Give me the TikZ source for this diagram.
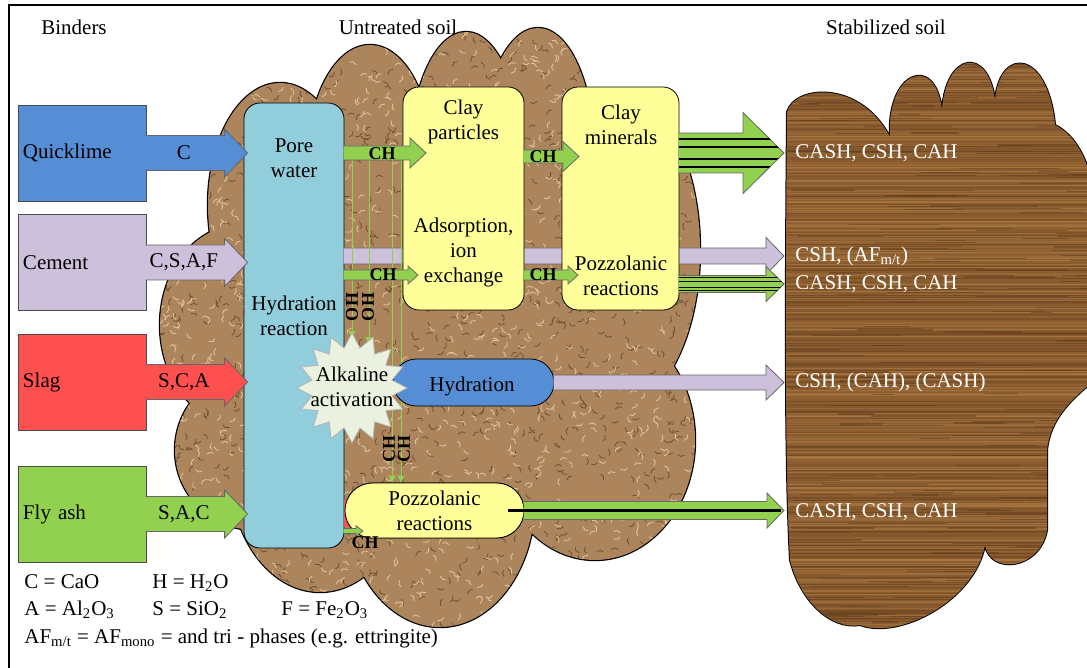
\documentclass[tikz,border=0pt]{standalone}
\usepackage{fontspec}
\setmainfont{Liberation Serif}
\usetikzlibrary{arrows.meta}
\usetikzlibrary{shapes.geometric}
\usetikzlibrary{calc}
\usetikzlibrary{positioning}

\definecolor{limeblue}{RGB}{85,142,213}
\definecolor{cemlilac}{RGB}{204,192,218}
\definecolor{slagred}{RGB}{255,80,80}
\definecolor{ashgreen}{RGB}{146,208,80}
\definecolor{porecyan}{RGB}{146,205,220}
\definecolor{clayyellow}{RGB}{255,255,153}
\definecolor{alkfill}{RGB}{234,241,222}
\definecolor{soilbase}{RGB}{172,133,92}
\definecolor{soildark}{RGB}{112,80,50}
\definecolor{soillight}{RGB}{222,194,152}
\definecolor{woodbase}{RGB}{140,92,46}
\definecolor{wooddark}{RGB}{96,60,28}
\definecolor{woodlight}{RGB}{186,136,78}

\tikzstyle{binder} = [draw=black!70, line width=0.4pt, rectangle,
minimum width=64pt, minimum height=48pt, text width=59pt, inner sep=2.5pt, align=left]
\tikzstyle{claybox} = [draw, fill=clayyellow, rectangle, rounded corners=8pt,
minimum height=111.5pt]
\tikzstyle{pill} = [draw, rectangle]
\tikzstyle{chlab} = [font=\fontsize{9}{10}\selectfont\bfseries, inner sep=0pt]
\tikzstyle{product} = [text=white, anchor=west, inner sep=5.5pt]
\tikzstyle{fatline} = [draw=black!60, line width=0.4pt]
\tikzstyle{feed} = [draw=ashgreen, line width=0.5pt, ->, fill=ashgreen]
\tikzstyle{keytext} = [anchor=base west, inner sep=0pt]

% block arrow: tail, tip, half shaft, half head, head length
\newcommand{\fatoutline}[5]{([xshift=-0.4pt,yshift=#3]#1) -- ([xshift=-#5,yshift=#3]#2)
  -- ([xshift=-#5,yshift=#4]#2) -- (#2) -- ([xshift=-#5,yshift=-#4]#2)
  -- ([xshift=-#5,yshift=-#3]#2) -- ([xshift=-0.4pt,yshift=-#3]#1)}
\newcommand{\fatarrow}[6][]{\path[#1] \fatoutline{#2}{#3}{#4}{#5}{#6};}

% outlines of the two soils
\newcommand{\soilblobs}{(280,205) ellipse [x radius=72, y radius=122]
  (370,158) ellipse [x radius=62, y radius=113]
  (466,158) ellipse [x radius=56, y radius=126]
  (538,152) ellipse [x radius=56, y radius=124]
  (615,250) ellipse [x radius=85, y radius=160]
  (240,325) ellipse [x radius=80, y radius=100]
  (255,450) ellipse [x radius=80, y radius=80]
  (320,470) ellipse [x radius=90, y radius=122]
  (440,500) ellipse [x radius=95, y radius=127]
  (595,440) ellipse [x radius=100, y radius=120]
  (450,330) ellipse [x radius=160, y radius=200]}
\newcommand{\stabblob}{(790,560) .. controls (784,450) and (786,250) .. (787,112)
  .. controls (795,85) and (860,80) .. (890,137)
  .. controls (886,72) and (935,52) .. (942,110)
  .. controls (946,52) and (988,46) .. (995,100)
  .. controls (1000,46) and (1048,50) .. (1055,125)
  .. controls (1075,135) and (1090,160) .. (1095,200) -- (1095,380)
  .. controls (1070,400) and (1050,420) .. (1047,450) -- (1047,530)
  .. controls (1040,570) and (990,575) .. (985,545)
  .. controls (975,600) and (900,640) .. (860,625)
  .. controls (830,630) and (800,600) .. (790,560) -- cycle}

\begin{document}
\begin{tikzpicture}[x=0.5pt, y=-0.5pt, font=\fontsize{10.5}{12.5}\selectfont,
  >={Triangle[length=3.5pt,width=3.5pt]}]
\useasboundingbox (0,0) rectangle (1087,668);
\pgfmathsetseed{11}

% untreated soil
\draw[line width=1.2pt] \soilblobs;
\begin{scope}
  \clip \soilblobs;
  \fill[soilbase] (150,0) rectangle (720,650);
  \foreach \k in {1,...,1400} {
    \pgfmathsetmacro{\px}{150+560*rnd}
    \pgfmathsetmacro{\py}{20+615*rnd}
    \pgfmathsetmacro{\pa}{360*rnd}
    \draw[soildark, line width=0.4pt, line cap=round] (\px,\py) -- ++(\pa:4) -- ++(\pa+50:3);
  }
  \foreach \k in {1,...,1400} {
    \pgfmathsetmacro{\px}{150+560*rnd}
    \pgfmathsetmacro{\py}{20+615*rnd}
    \pgfmathsetmacro{\pa}{360*rnd}
    \draw[soillight, line width=0.45pt, line cap=round] (\px,\py) -- ++(\pa:4) -- ++(\pa-50:3);
  }
\end{scope}

% stabilized soil
\draw[line width=1pt] \stabblob;
\begin{scope}
  \clip \stabblob;
  \fill[woodbase] (770,40) rectangle (1100,650);
  \foreach \k in {0,...,390} {
    \pgfmathsetmacro{\wy}{40+1.55*\k}
    \pgfmathsetmacro{\wm}{int(100*rnd)}
    \draw[woodlight!\wm!wooddark, line width=0.55pt, opacity=0.6] (770,\wy) -- (1100,\wy);
  }
  \foreach \k in {1,...,250} {
    \pgfmathsetmacro{\wx}{770+330*rnd}
    \pgfmathsetmacro{\wy}{40+610*rnd}
    \pgfmathsetmacro{\wl}{20+90*rnd}
    \draw[wooddark, line width=0.6pt, opacity=0.5] (\wx,\wy) -- ++(\wl,0);
  }
\end{scope}

\node[product] (out1) at (784,153) {CASH, CSH, CAH};
\node[product] (out2) at (784,256) {CSH, (AF\textsubscript{m/t})};
\node[product] (out3) at (784,284) {CASH, CSH, CAH};
\node[product] (out4) at (784,382.5) {CSH, (CAH), (CASH)};
\node[product] (out5) at (784,512) {CASH, CSH, CAH};

% pore water column
\node[draw, fill=porecyan, rounded corners=8pt, minimum width=50pt,
  minimum height=222.5pt] (porebox) at (294,325.5) {};

% cement products pass under the clay
\coordinate (c2) at (porebox.east |- out2.west);
\fatarrow[fill=cemlilac, fatline]{c2}{out2.west}{4pt}{9.25pt}{9pt}

% lime released to the alkaline and pozzolanic steps
\coordinate (oh1) at (352,160);
\coordinate (oh2) at (369,160);
\coordinate (ch1) at (392,160);
\coordinate (ch2) at (401,160);
\draw[feed] (oh1) -- (352,338);
\draw[feed] (oh2) -- (369,344);

\node[pill, fill=clayyellow, rounded corners=13.7pt, minimum width=89.5pt,
  minimum height=27.5pt] (pozzB) at (434.5,510.5) {};
\draw[feed] (ch1) -- (ch1 |- pozzB.north);
\draw[feed] (ch2) -- (ch2 |- pozzB.north);

\node[claybox, minimum width=60.5pt] (particles) at (463.5,198.5) {};
\node[claybox, minimum width=58.5pt] (minerals) at (620.5,198.5) {};

\fill[slagred] (344,500) rectangle (351,527);
\node[pill, fill=clayyellow, rounded corners=13.7pt, minimum width=89.5pt,
  minimum height=27.5pt] (pozzB) at (434.5,510.5) {};
\node[pill, fill=limeblue, rounded corners=11.7pt, minimum width=80.5pt,
  minimum height=23.5pt] (hyd) at (473.5,382.5) {};
\node[star, star points=16, star point ratio=1.35, minimum size=55pt, inner sep=0pt,
  draw=black!30, fill=alkfill] (alk) at (352,388) {};

\node (poretxt) at (294,158) [align=center] {Pore\\water};
\node (hydrtxt) at (294,316) [align=center] {Hydration\\reaction};
\node (parttxt) at (463.5,121.5) [align=center] {Clay\\particles};
\node (adstxt) at (463.5,252) [align=center] {Adsorption,\\ion\\exchange};
\node (mintxt) at (621,124.5) [align=center] {Clay\\minerals};
\node (pozztxt) at (621,275.5) [align=center] {Pozzolanic\\reactions};
\node (hydtxt) at (472,386) {Hydration};
\node (alktxt) at (352,387) [align=center] {Alkaline\\activation};
\node (pozzBtxt) at (434.5,511) [align=center] {Pozzolanic\\reactions};

% calcium hydroxide transfers
\coordinate (cha) at (426,153);
\coordinate (chat) at (porebox.east |- cha);
\fatarrow[fill=ashgreen, fatline]{chat}{cha}{3.5pt}{7.5pt}{8pt}
\coordinate (chb) at (579,156.5);
\coordinate (chbt) at (particles.east |- chb);
\fatarrow[fill=ashgreen, fatline]{chbt}{chb}{3.25pt}{7.5pt}{8pt}
\coordinate (chc) at (418,275);
\coordinate (chct) at (porebox.east |- chc);
\fatarrow[fill=ashgreen, fatline]{chct}{chc}{2.5pt}{4.5pt}{5pt}
\coordinate (chd) at (578,275);
\coordinate (chdt) at (particles.east |- chd);
\fatarrow[fill=ashgreen, fatline]{chdt}{chd}{2.5pt}{4.5pt}{5pt}
\coordinate (che) at (363,531);
\coordinate (chet) at (porebox.east |- che);
\fatarrow[fill=ashgreen, fatline]{chet}{che}{1.3pt}{2.6pt}{3.5pt}

\node[chlab] (chla) at (382,154) {CH};
\node[chlab] (chlb) at (543,157) {CH};
\node[chlab] (chlc) at (383,275) {CH};
\node[chlab] (chld) at (543,275) {CH};
\node[chlab] (chle) at (365,543) {CH};
\node[chlab, rotate=90] (ohl1) at (352,307) {OH};
\node[chlab, rotate=90] (ohl2) at (368,307) {OH};
\node[chlab, rotate=90] (chl1) at (389,449) {CH};
\node[chlab, rotate=90] (chl2) at (404,449) {CH};

% binders
\foreach \nm/\txt/\yy/\col/\chem in {ql/Quicklime/153/limeblue/C,
    cem/Cement/262.5/cemlilac/{C,S,A,F}, slag/Slag/382/slagred/{S,C,A},
    ash/Fly ash/514/ashgreen/{S,A,C}} {
  \node[binder, fill=\col] (\nm) at (82,\yy) {\txt};
  \coordinate (\nm tip) at ([xshift=2pt]porebox.west |- \nm.east);
  \fatarrow[fill=\col, fatline]{\nm.east}{\nm tip}{8.75pt}{12pt}{11.5pt}
  \node (\nm chem) at ($(\nm.east)!0.37!(\nm tip)$) {\chem};
}

% products into the stabilized soil
\coordinate (s1) at (minerals.east |- out1.west);
\fatarrow[fill=ashgreen, fatline]{s1}{out1.west}{10pt}{20.25pt}{20.5pt}
\begin{scope}
  \clip \fatoutline{s1}{out1.west}{10pt}{20.25pt}{20.5pt} -- cycle;
  \foreach \dy in {7pt,3pt,-3pt,-7pt}
    \draw[line width=0.9pt] ([yshift=\dy]s1) -- ([yshift=\dy]out1.west);
\end{scope}
\coordinate (s3) at (minerals.east |- out3.west);
\fatarrow[fill=ashgreen, fatline]{s3}{out3.west}{4.25pt}{8.75pt}{9pt}
\begin{scope}
  \clip \fatoutline{s3}{out3.west}{4.25pt}{8.75pt}{9pt} -- cycle;
  \foreach \dy in {3.2pt,1.2pt,-1.8pt,-3.4pt}
    \draw[line width=0.7pt] ([yshift=\dy]s3) -- ([yshift=\dy]out3.west);
\end{scope}
\coordinate (t4) at (out4.west |- hyd.east);
\fatarrow[fill=cemlilac, fatline]{hyd.east}{t4}{3.75pt}{8.75pt}{9pt}
\coordinate (t5) at (out5.west |- pozzB.east);
\fatarrow[fill=ashgreen, fatline]{pozzB.east}{t5}{4.5pt}{8.75pt}{8.5pt}
\draw[line width=1.5pt] ([xshift=-8pt]pozzB.east) -- ([xshift=-1.5pt]t5);

% headings
\node (hbind) at (74,27) {Binders};
\node (hsoil) at (398,27) {Untreated soil};
\node (hstab) at (886,27) {Stabilized soil};

% notation
\node[keytext] (kc) at (24,588) {C = CaO};
\node[keytext] (kh) at (152,588) {H = H\textsubscript{2}O};
\node[keytext] (ka) at (24,615) {A = Al\textsubscript{2}O\textsubscript{3}};
\node[keytext] (ks) at (152,615) {S = SiO\textsubscript{2}};
\node[keytext] (kf) at (281,615) {F = Fe\textsubscript{2}O\textsubscript{3}};
\node[keytext] (kaf) at (24,643) {AF\textsubscript{m/t} = AF\textsubscript{mono} = and tri - phases (e.g. ettringite)};

\draw[line width=1pt] (9,668) -- (9,5) -- (1087,5);
\end{tikzpicture}
\end{document}
